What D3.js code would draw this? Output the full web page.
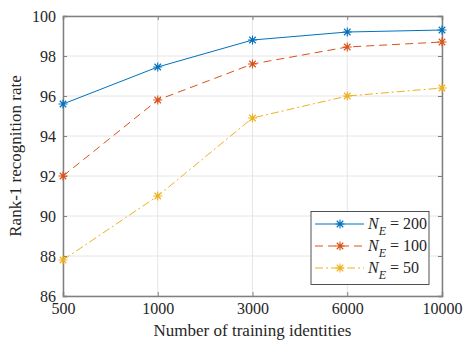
<!DOCTYPE html>
<html><head><meta charset="utf-8">
<script src="https://cdn.jsdelivr.net/npm/d3@7"></script>
<style>body{margin:0;background:#fff}svg{display:block}svg text{font-family:"Liberation Serif",serif;fill:#262626}</style>
</head><body><svg id="c" width="473" height="355"></svg>
<script>
const categories = ["500","1000","3000","6000","10000"];
const yTicks = [86,88,90,92,94,96,98,100];
const seriesNames = ["200","100","50"];
const values200 = [95.6, 97.45, 98.8, 99.2, 99.3];
const values100 = [92.0, 95.8, 97.6, 98.45, 98.7];
const values50 = [87.8, 91.0, 94.9, 96.0, 96.4];
const colors = ["#0072BD","#D95319","#EDB120"];
const dashes = [null,"8,5","8,3,2,3"];

const svg = d3.select("#c");
const L=63,R=442,T=16,B=296;
const x = d3.scalePoint().domain(categories).range([L,R]);
const y = d3.scaleLinear().domain([86,100]).range([B,T]);
const g = svg.append("g");
g.selectAll(".gx").data(categories).join("line").attr("x1",d=>x(d)).attr("x2",d=>x(d)).attr("y1",T).attr("y2",B).attr("stroke","#e6e6e6").attr("stroke-width",1);
g.selectAll(".gy").data(yTicks).join("line").attr("y1",d=>y(d)).attr("y2",d=>y(d)).attr("x1",L).attr("x2",R).attr("stroke","#e6e6e6").attr("stroke-width",1);
const ax = svg.append("g").attr("transform",`translate(0,${B})`).call(d3.axisBottom(x).tickSize(-4).tickPadding(7));
const ay = svg.append("g").attr("transform",`translate(${L},0)`).call(d3.axisLeft(y).tickValues(yTicks).tickSize(-4).tickPadding(7));
const axt = svg.append("g").attr("transform",`translate(0,${T})`).call(d3.axisTop(x).tickSize(-4).tickFormat(""));
const ayr = svg.append("g").attr("transform",`translate(${R},0)`).call(d3.axisRight(y).tickValues(yTicks).tickSize(-4).tickFormat(""));
[ax,ay,axt,ayr].forEach(a=>{a.attr("font-family",null).attr("font-size",null);a.select(".domain").attr("stroke","#808080").attr("stroke-width",1.5);a.selectAll(".tick line").attr("stroke","#808080");a.selectAll("text").style("font-size","16px").attr("fill","#262626");});
ax.selectAll("text").attr("dy","0.71em");
svg.append("text").attr("x",(L+R)/2).attr("y",336).attr("text-anchor","middle").style("font-size","17px").text("Number of training identities");
svg.append("text").attr("transform",`translate(21,${(T+B)/2}) rotate(-90)`).attr("text-anchor","middle").style("font-size","17px").text("Rank-1 recognition rate");

const allSeries=[values200,values100,values50];
const line = d3.line().x((d,i)=>x(categories[i])).y(d=>y(d));
function star(sel,cx,cy,c){
  const r=4.5, rd=r*0.72;
  const p=`M${cx-r},${cy}L${cx+r},${cy}M${cx},${cy-r}L${cx},${cy+r}M${cx-rd},${cy-rd}L${cx+rd},${cy+rd}M${cx-rd},${cy+rd}L${cx+rd},${cy-rd}`;
  sel.append("path").attr("d",p).attr("stroke",c).attr("stroke-width",1.1).attr("fill","none");
}
allSeries.forEach((vals,k)=>{
  svg.append("path").datum(vals).attr("d",line).attr("fill","none").attr("stroke",colors[k]).attr("stroke-width",1).attr("stroke-dasharray",dashes[k]);
  const mg=svg.append("g");
  vals.forEach((v,i)=>star(mg,x(categories[i]),y(v),colors[k]));
});
const lg=svg.append("g");
lg.append("rect").attr("x",311).attr("y",211.5).attr("width",118).attr("height",73).attr("fill","#fff").attr("stroke","#262626").attr("stroke-width",0.8);
seriesNames.forEach((n,k)=>{
  const yy=224+k*22;
  lg.append("line").attr("x1",315).attr("x2",364).attr("y1",yy).attr("y2",yy).attr("stroke",colors[k]).attr("stroke-width",1).attr("stroke-dasharray",dashes[k]);
  star(lg,340,yy,colors[k]);
  const t=lg.append("text").attr("x",368).attr("y",yy+5).style("font-size","16px");
  t.append("tspan").attr("font-style","italic").text("N");
  t.append("tspan").attr("font-style","italic").style("font-size","12px").attr("dy",6).text("E");
  t.append("tspan").attr("dy",-6).text(" = "+n);
});
</script></body></html>
